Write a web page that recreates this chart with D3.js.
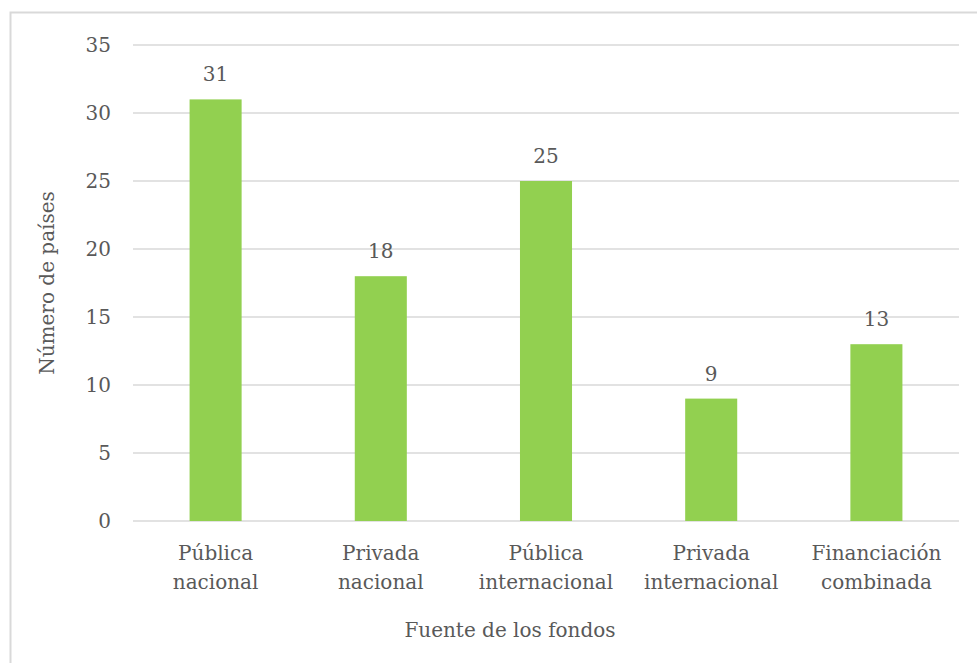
<!DOCTYPE html>
<html>
<head>
<meta charset="utf-8">
<script src="https://cdn.jsdelivr.net/npm/d3@7"></script>
<style>
  body { margin: 0; background: #fff; }
</style>
</head>
<body>
<div id="chart"></div>
<script>
    // categories (two lines each) and values
    var categories = ["Pública nacional", "Privada nacional", "Pública internacional", "Privada internacional", "Financiación combinada"];
    var catLines = [["Pública", "nacional"], ["Privada", "nacional"], ["Pública", "internacional"], ["Privada", "internacional"], ["Financiación", "combinada"]];
    var values = [31, 18, 25, 9, 13];
    var yTicks = [0, 5, 10, 15, 20, 25, 30, 35];

    var width = 977,
        height = 663;

    var plotLeft = 133, plotRight = 959, plotTop = 45, plotBottom = 521;
    var serif = "DejaVu Serif";

    var svg = d3.select("#chart").append("svg")
      .attr("width", width)
      .attr("height", height)
      .style("font-family", serif);

    // outer frame
    svg.append("rect")
      .attr("x", 10.5).attr("y", 12.5)
      .attr("width", 1000).attr("height", 700)
      .attr("fill", "none")
      .attr("stroke", "#d9d9d9")
      .attr("stroke-width", 2);

    var x = d3.scaleBand()
      .domain(categories)
      .range([plotLeft, plotRight])
      .paddingInner(0.685)
      .paddingOuter(0.3425);

    var y = d3.scaleLinear()
      .domain([0, 35])
      .range([plotBottom, plotTop]);

    // gridlines
    svg.selectAll(".grid")
      .data(yTicks)
      .enter().append("line")
      .attr("x1", plotLeft).attr("x2", plotRight)
      .attr("y1", function(d) { return y(d); })
      .attr("y2", function(d) { return y(d); })
      .attr("stroke", "#d9d9d9")
      .attr("stroke-width", 1.5);

    // y axis labels
    var yAxis = d3.axisLeft(y).tickValues(yTicks).tickSize(0).tickPadding(0);
    var gy = svg.append("g")
      .attr("transform", "translate(111,0)")
      .call(yAxis);
    gy.select(".domain").remove();
    gy.selectAll("text")
      .style("font-family", serif)
      .style("font-size", "20px")
      .attr("fill", "#595959");

    // bars
    svg.selectAll(".bar")
      .data(values)
      .enter().append("rect")
      .attr("class", "bar")
      .attr("x", function(d, i) { return x(categories[i]); })
      .attr("y", function(d) { return y(d); })
      .attr("width", x.bandwidth())
      .attr("height", function(d) { return y(0) - y(d); })
      .attr("fill", "#92d050");

    // value labels
    svg.selectAll(".val")
      .data(values)
      .enter().append("text")
      .attr("text-anchor", "middle")
      .style("font-size", "20px")
      .attr("fill", "#595959")
      .attr("x", function(d, i) { return x(categories[i]) + x.bandwidth() / 2; })
      .attr("y", function(d) { return y(d) - 18; })
      .text(function(d) { return d; });

    // category labels
    var cat = svg.selectAll(".cat")
      .data(catLines)
      .enter().append("text")
      .attr("text-anchor", "middle")
      .style("font-size", "20px")
      .attr("fill", "#595959")
      .attr("transform", function(d, i) {
        return "translate(" + (x(categories[i]) + x.bandwidth() / 2) + ",560)";
      });
    cat.selectAll("tspan")
      .data(function(d) { return d; })
      .enter().append("tspan")
      .attr("x", 0)
      .attr("y", function(d, j) { return j * 29; })
      .text(function(d) { return d; });

    // axis titles
    svg.append("text")
      .attr("text-anchor", "middle")
      .style("font-size", "20px")
      .attr("fill", "#595959")
      .attr("x", (plotLeft + plotRight) / 2 - 36)
      .attr("y", 637)
      .text("Fuente de los fondos");

    svg.append("text")
      .attr("text-anchor", "middle")
      .style("font-size", "20px")
      .attr("fill", "#595959")
      .attr("transform", "translate(54," + (plotTop + plotBottom) / 2 + ") rotate(-90)")
      .text("Número de países");
</script>
</body>
</html>
